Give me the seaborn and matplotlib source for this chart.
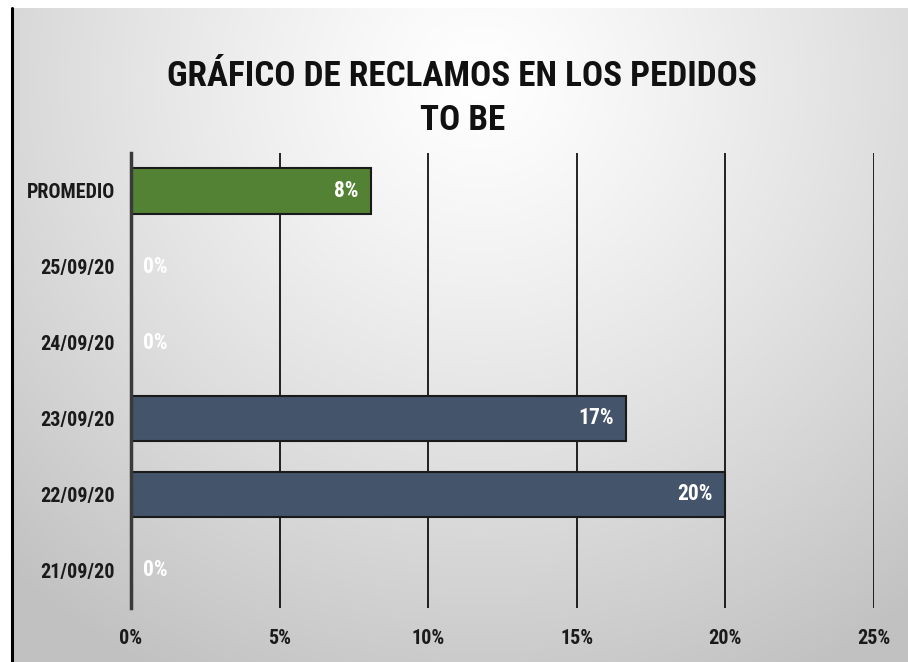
import numpy as np
import pandas as pd
import matplotlib
matplotlib.use("Agg")
import matplotlib.pyplot as plt
import seaborn as sns
from matplotlib.lines import Line2D
import logging
logging.getLogger("matplotlib.font_manager").setLevel(logging.ERROR)

# ---- data ----
categories = ["PROMEDIO", "25/09/20", "24/09/20", "23/09/20", "22/09/20", "21/09/20"]
values = [0.0806, 0.0, 0.0, 0.1667, 0.20, 0.0]
value_labels = ["8%", "0%", "0%", "17%", "20%", "0%"]
bar_colors = ["#548235", "#44546A", "#44546A", "#44546A", "#44546A", "#44546A"]
x_ticks = [0.0, 0.05, 0.10, 0.15, 0.20, 0.25]
x_tick_labels = ["0%", "5%", "10%", "15%", "20%", "25%"]
title_lines = ["GRÁFICO DE RECLAMOS EN LOS PEDIDOS", "TO BE"]

df = pd.DataFrame({"fecha": categories, "valor": values})

sns.set_theme(style="white")
FONT = ["Roboto Condensed", "Lato", "DejaVu Sans"]
plt.rcParams["font.family"] = FONT

W, H = 908, 662
fig = plt.figure(figsize=(W / 100, H / 100), dpi=100)
fig.patch.set_facecolor("white")

# background radial gradient
bg = fig.add_axes([0, 0, 1, 1], zorder=-10)
yy, xx = np.mgrid[0:H, 0:W]
cx, cy = 480, 80
r = np.sqrt(((xx - cx) / 640.0) ** 2 + ((yy - cy) / 620.0) ** 2)
shade = np.clip(1.0 - 0.22 * r ** 1.2, 0.76, 1.0)
img = np.dstack([shade, shade, shade])
img[:8, :, :] = 1.0
img[:, :11, :] = 1.0
bg.imshow(img, aspect="auto", extent=[0, W, H, 0], interpolation="bilinear")
bg.set_xlim(0, W)
bg.set_ylim(H, 0)
bg.axis("off")
bg.add_line(Line2D([12, 12], [8, H], color="black", lw=2.2))

# main axes
left, right = 131 / W, 874 / W
bottom, top = 1 - 608 / H, 1 - 153 / H
ax = fig.add_axes([left, bottom, right - left, top - bottom])
ax.set_facecolor("none")

sns.barplot(data=df, x="valor", y="fecha", hue="fecha", palette=bar_colors,
            saturation=1, orient="h", width=0.6, edgecolor="#1a1a1a",
            linewidth=1.5, legend=False, ax=ax, zorder=3)

ax.set_xlim(0, 0.25)
ax.set_ylim(len(categories) - 0.5, -0.5)
ax.set_xticks(x_ticks)
ax.set_xticklabels(x_tick_labels)
for xv in x_ticks[1:]:
    ax.axvline(xv, color="black", lw=1.2, zorder=1)

for s in ["top", "right", "bottom"]:
    ax.spines[s].set_visible(False)
ax.spines["left"].set_color("#3a3a3a")
ax.spines["left"].set_linewidth(2.5)
ax.spines["left"].set_zorder(5)

ax.set_xlabel("")
ax.set_ylabel("")
ax.tick_params(axis="x", length=0, pad=15, labelsize=14.5)
ax.tick_params(axis="y", length=0, pad=11.5, labelsize=14.5)
for lab in ax.get_xticklabels() + ax.get_yticklabels():
    lab.set_fontweight("bold")
    lab.set_color("#1a1a1a")
    lab.set_family(FONT)

# data labels
for i, (v, lab) in enumerate(zip(values, value_labels)):
    if v > 0:
        ax.annotate(lab, xy=(v, i), xytext=(-9, 0), textcoords="offset points",
                    ha="right", va="center", color="white", fontsize=15.5,
                    fontweight="bold", family=FONT, zorder=6)
    else:
        ax.annotate(lab, xy=(v, i), xytext=(8.5, 0), textcoords="offset points",
                    ha="left", va="center", color="white", fontsize=15.5,
                    fontweight="bold", family=FONT, zorder=6)

# title
fig.text(0.509, 1 - 76 / H, title_lines[0], ha="center", va="center",
         fontsize=25.3, fontweight="bold", color="#111111", family=FONT)
fig.text(0.509, 1 - 121 / H, title_lines[1], ha="center", va="center",
         fontsize=25.3, fontweight="bold", color="#111111", family=FONT)

fig.savefig("out.png", dpi=100)
